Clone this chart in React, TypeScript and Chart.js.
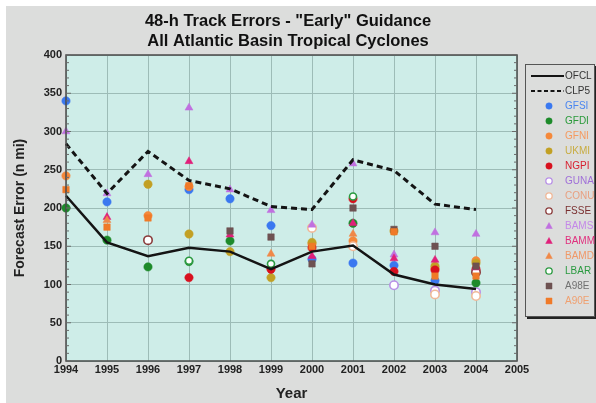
import { useEffect, useRef } from "react";
import { Chart, registerables } from "chart.js";
Chart.register(...registerables);

const years = [1994, 1995, 1996, 1997, 1998, 1999, 2000, 2001, 2002, 2003, 2004];
const xTickValues = [1994, 1995, 1996, 1997, 1998, 1999, 2000, 2001, 2002, 2003, 2004, 2005];
const yTickValues = [0, 50, 100, 150, 200, 250, 300, 350, 400];

const OFCL = [216, 155, 137, 148, 143, 120, 143, 151, 113, 100, 94];
const CLP5 = [284, 219, 274, 236, 225, 202, 198, 263, 249, 205, 198];
const GFSI = [340, 208, null, 224, 212, 177, 133, 128, 125, 105, null];
const GFDI = [200, 158, 123, 130, 157, null, null, 180, null, null, 102];
const GFNI = [242, null, 190, 228, null, null, 153, 157, null, 121, 131];
const UKMI = [null, null, 231, 166, 143, 109, 155, null, 170, 124, 128];
const NGPI = [null, null, null, 109, null, 120, 148, 212, 117, 119, 120];
const GUNA = [null, null, null, null, null, null, null, null, 99, 92, 90];
const CONU = [null, null, null, null, null, null, 174, 150, null, 87, 85];
const FSSE = [null, null, 158, null, null, null, null, null, null, null, 116];
const BAMS = [300, 219, 244, 331, 224, 197, 178, 258, 139, 168, 166];
const BAMM = [null, 188, null, 261, 165, null, 137, 180, 134, 132, 122];
const BAMD = [null, 184, null, null, null, 140, null, 166, null, null, null];
const LBAR = [null, null, null, 131, null, 127, null, 215, null, null, null];
const A98E = [null, null, null, null, 170, 162, 127, 200, 172, 150, 124];
const A90E = [224, 175, 187, 229, null, null, 150, null, 169, 111, 111];

type Mk = { name: string; values: (number | null)[]; color: string; text: string; style: string; open: boolean };

const markerSeries: Mk[] = [
  { name: "GFSI", values: GFSI, color: "#3a78f0", text: "#4a86f0", style: "circle", open: false },
  { name: "GFDI", values: GFDI, color: "#1d8a2a", text: "#2a9a3a", style: "circle", open: false },
  { name: "GFNI", values: GFNI, color: "#f5883a", text: "#f59a60", style: "circle", open: false },
  { name: "UKMI", values: UKMI, color: "#c2a024", text: "#c8ac40", style: "circle", open: false },
  { name: "NGPI", values: NGPI, color: "#d8101e", text: "#d82030", style: "circle", open: false },
  { name: "GUNA", values: GUNA, color: "#b890e6", text: "#a070d8", style: "circle", open: true },
  { name: "CONU", values: CONU, color: "#f0b898", text: "#e8a080", style: "circle", open: true },
  { name: "FSSE", values: FSSE, color: "#8a3a3a", text: "#7a3030", style: "circle", open: true },
  { name: "BAMS", values: BAMS, color: "#c070e0", text: "#c488e8", style: "triangle", open: false },
  { name: "BAMM", values: BAMM, color: "#e0207a", text: "#e0307e", style: "triangle", open: false },
  { name: "BAMD", values: BAMD, color: "#f08848", text: "#f09868", style: "triangle", open: false },
  { name: "LBAR", values: LBAR, color: "#2a9a40", text: "#2a9a40", style: "circle", open: true },
  { name: "A98E", values: A98E, color: "#6e5252", text: "#707070", style: "rect", open: false },
  { name: "A90E", values: A90E, color: "#f07a28", text: "#f0a070", style: "rect", open: false },
];

const toPts = (vals: (number | null)[]) => years.map((y, i) => ({ x: y, y: vals[i] }));

export default function App() {
  const ref = useRef<HTMLCanvasElement | null>(null);
  useEffect(() => {
    document.body.style.margin = "0";
    const canvas = ref.current!;
    const font = "'Liberation Sans', Arial, sans-serif";

    const datasets: any[] = [
      { label: "OFCL", data: toPts(OFCL), type: "line", borderColor: "#141414", borderWidth: 2.5, pointRadius: 0, fill: false, order: 0, clip: false },
      { label: "CLP5", data: toPts(CLP5), type: "line", borderColor: "#141414", borderWidth: 3, borderDash: [6, 4], pointRadius: 0, fill: false, order: 0, clip: false },
      ...markerSeries.map((s, i) => ({
        label: s.name,
        data: toPts(s.values),
        type: "line",
        showLine: false,
        clip: false,
        pointStyle: s.style,
        pointRadius: s.style === "circle" ? (s.name === "LBAR" ? 3.5 : 4.2) : 4.6,
        pointBackgroundColor: s.open ? "#ffffff" : s.color,
        pointBorderColor: s.color,
        pointBorderWidth: s.open ? 1.6 : 0.5,
        order: 20 - i,
      })),
    ];

    const legendItems = [
      { name: "OFCL", kind: "solid", color: "#141414", text: "#333333" },
      { name: "CLP5", kind: "dash", color: "#141414", text: "#333333" },
      ...markerSeries.map((s) => ({ name: s.name, kind: s.style, color: s.color, text: s.text, open: s.open })),
    ];

    const decor = {
      id: "decor",
      beforeDraw(chart: any) {
        const { ctx, chartArea: a } = chart;
        ctx.save();
        ctx.fillStyle = "#ffffff";
        ctx.fillRect(0, 0, 596, 403);
        ctx.fillStyle = "#dcdddc";
        ctx.fillRect(6, 6, 590, 397);
        ctx.fillStyle = "#ceede8";
        ctx.fillRect(a.left, a.top, a.right - a.left, a.bottom - a.top);
        ctx.restore();
      },
      afterDraw(chart: any) {
        const { ctx, chartArea: a, scales } = chart;
        ctx.save();
        ctx.strokeStyle = "#4a4a4a";
        ctx.lineWidth = 1.5;
        ctx.strokeRect(a.left, a.top, a.right - a.left, a.bottom - a.top);
        ctx.lineWidth = 1;
        ctx.strokeStyle = "#6a6a6a";
        for (let v = 0; v <= 400; v += 10) {
          const y = scales.y.getPixelForValue(v);
          const len = v % 50 === 0 ? 5 : 3;
          ctx.beginPath();
          ctx.moveTo(a.left, y);
          ctx.lineTo(a.left + len, y);
          ctx.moveTo(a.right, y);
          ctx.lineTo(a.right - len, y);
          ctx.stroke();
        }
        ctx.fillStyle = "#111111";
        ctx.textAlign = "center";
        ctx.textBaseline = "middle";
        ctx.font = `bold 16.5px ${font}`;
        ctx.fillText('48-h Track Errors - "Early" Guidance', 288, 21);
        ctx.fillText("All Atlantic Basin Tropical Cyclones", 288, 41);
        const bx = 525, by = 64, bw = 69, bh = 252;
        ctx.fillStyle = "#222222";
        ctx.fillRect(bx + 2, by + 2, bw, bh + 1);
        ctx.fillStyle = "#dcdddc";
        ctx.fillRect(bx, by, bw, bh);
        ctx.strokeStyle = "#555555";
        ctx.lineWidth = 1;
        ctx.strokeRect(bx + 0.5, by + 0.5, bw, bh);
        ctx.font = `10px ${font}`;
        ctx.textAlign = "left";
        legendItems.forEach((it: any, i: number) => {
          const y = 76 + i * 15;
          const mx = 549;
          ctx.save();
          if (it.kind === "solid" || it.kind === "dash") {
            ctx.strokeStyle = it.color;
            ctx.lineWidth = it.kind === "dash" ? 2.2 : 2;
            ctx.setLineDash(it.kind === "dash" ? [4, 2.5] : []);
            ctx.beginPath();
            ctx.moveTo(531, y);
            ctx.lineTo(564, y);
            ctx.stroke();
          } else {
            ctx.fillStyle = it.open ? "#ffffff" : it.color;
            ctx.strokeStyle = it.color;
            ctx.lineWidth = it.open ? 1.3 : 0.5;
            ctx.beginPath();
            if (it.kind === "circle") {
              ctx.arc(mx, y, 3.2, 0, Math.PI * 2);
            } else if (it.kind === "triangle") {
              ctx.moveTo(mx, y - 3.5);
              ctx.lineTo(mx + 3.3, y + 2.5);
              ctx.lineTo(mx - 3.3, y + 2.5);
              ctx.closePath();
            } else {
              ctx.rect(mx - 3, y - 3, 6, 6);
            }
            ctx.fill();
            ctx.stroke();
          }
          ctx.restore();
          ctx.fillStyle = it.text;
          ctx.fillText(it.name, 565, y + 0.5);
        });
        ctx.restore();
      },
    };

    const chart = new Chart(canvas, {
      type: "line",
      data: { datasets },
      options: {
        animation: false,
        responsive: false,
        layout: { padding: { top: 55, right: 79, left: 0, bottom: 0 } },
        plugins: { legend: { display: false }, tooltip: { enabled: false }, title: { display: false } },
        scales: {
          x: {
            type: "linear",
            min: 1994,
            max: 2005,
            afterFit: (s: any) => { s.height = 42; },
            afterBuildTicks: (s: any) => { s.ticks = xTickValues.map((v) => ({ value: v })); },
            ticks: { color: "#222222", font: { family: font, size: 11, weight: "bold" }, padding: 2, callback: (v: any) => String(v), maxRotation: 0, autoSkip: false },
            grid: { color: "#9dbcb7", lineWidth: 1, drawTicks: false },
            border: { display: false },
            title: { display: true, text: "Year", color: "#222222", font: { family: font, size: 15, weight: "bold" }, padding: { top: 0, bottom: 0 } },
          },
          y: {
            min: 0,
            max: 400,
            afterFit: (s: any) => { s.width = 66; },
            afterBuildTicks: (s: any) => { s.ticks = yTickValues.map((v) => ({ value: v })); },
            ticks: { color: "#222222", font: { family: font, size: 11, weight: "bold" }, padding: 4 },
            grid: { color: "#9dbcb7", lineWidth: 1, drawTicks: false },
            border: { display: false },
            title: { display: true, text: "Forecast Error (n mi)", color: "#222222", font: { family: font, size: 14, weight: "bold" }, padding: { top: 12, bottom: 0 } },
          },
        },
      } as any,
      plugins: [decor],
    });
    return () => chart.destroy();
  }, []);
  return <canvas ref={ref} width={596} height={403} style={{ display: "block", width: 596, height: 403 }} />;
}
